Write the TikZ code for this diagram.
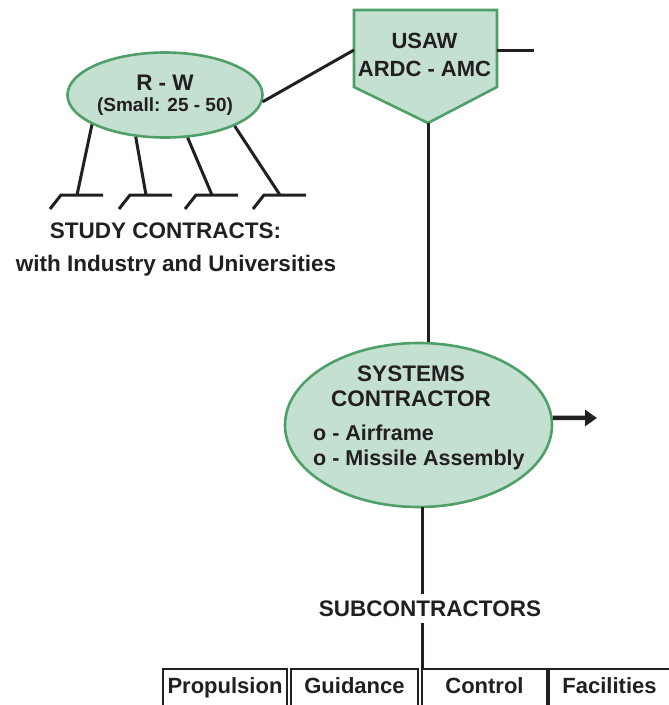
\documentclass[tikz,border=0pt]{standalone}
\usepackage{fontspec}
\setmainfont{Liberation Sans}
\usetikzlibrary{shapes.geometric, arrows.meta}
\definecolor{sagefill}{RGB}{196,224,209}
\definecolor{sageedge}{RGB}{78,160,104}
\definecolor{inkblack}{RGB}{35,31,32}
\tikzset{lbl/.style={font=\bfseries\fontsize{22.5}{25}\selectfont, text=inkblack, inner sep=0pt}}
\tikzset{bubble/.style={ellipse, draw=sageedge, fill=sagefill, line width=2.6pt, inner sep=0pt}}
\tikzset{wire/.style={draw=inkblack, line width=3pt}}
\tikzset{subbox/.style={rectangle, draw=inkblack, line width=2.4pt, minimum height=39pt, inner sep=0pt,
    text height=15pt, text depth=4.5pt, font=\bfseries\fontsize{22}{25}\selectfont, text=inkblack}}

\begin{document}
\begin{tikzpicture}[x=1pt, y=-1pt]
    \useasboundingbox (0,0) rectangle (669,705);
    \clip (0,0) rectangle (669,705);

    % headquarters
    \coordinate (usawin) at (354,50);
    \coordinate (usawout) at (497,50);
    \coordinate (usawend) at (534,50);
    \coordinate (usawtip) at (428,123);
    \filldraw[fill=sagefill, draw=sageedge, line width=2.6pt] (354,10) -- (497,10) -- (497,87) -- (usawtip) -- (354,87) -- cycle;
    \node[lbl, align=center, font=\bfseries\fontsize{22}{28}\selectfont] (usaw) at (424.5,54.5) {USAW\\ARDC - AMC};
    \draw[wire] (usawout) -- (usawend);

    % study contracts
    \node[bubble, minimum width=195pt, minimum height=85pt, align=center, font=\bfseries\fontsize{22.5}{21}\selectfont, text=inkblack] (rw) at (165,95)
        {R - W\\{\fontsize{19}{21}\selectfont (Small: 25 - 50)}};
    \draw[wire] (rw.-4) -- (usawin);
    \foreach \ang/\fx in {202/77, 235/146, 298/212, 336/280} {
        \coordinate (foot) at (\fx,195);
        \draw[wire] (rw.\ang) -- (foot);
        \draw[wire] ([xshift=26pt]foot) -- ([xshift=-16pt]foot) -- ++(-11,14);
    }
    \node[lbl, anchor=base] (studyhd) at (165.5,238) {STUDY CONTRACTS:};
    \node[lbl, anchor=base] (studysub) at (176,271) {with Industry and Universities};

    % prime contractor
    \node[bubble, minimum width=267pt, minimum height=164pt] (sys) at (418.5,425) {};
    \node[lbl, align=center] (syshead) at (411,386) {SYSTEMS\\CONTRACTOR};
    \node[lbl, align=left, anchor=north west, font=\bfseries\fontsize{21.5}{25}\selectfont] (sysitems) at (313,425) {o - Airframe\\o - Missile Assembly};
    \draw[wire] (usawtip) -- (usawtip |- sys.north);
    \coordinate (sysout) at (597,418);
    \draw[wire, line width=4.5pt, -{Triangle[length=12pt, width=16pt]}] (sys.3) -- (sysout);

    % subcontractors
    \coordinate (subtop) at (422,507);
    \node[lbl, anchor=base, inner ysep=6.5pt] (subhead) at (430,616) {SUBCONTRACTORS};
    \node[subbox, minimum width=124pt] (prop) at (225,688.5) {Propulsion};
    \node[subbox, minimum width=127pt] (guid) at (354.5,688.5) {Guidance};
    \node[subbox, minimum width=125pt] (ctrl) at (484.5,688.5) {Control};
    \node[subbox, minimum width=121pt] (fac) at (609.5,688.5) {Facilities};
    \draw[wire] (subtop) -- (subtop |- subhead.north);
    \draw[wire] (subtop |- subhead.south) -- (subtop |- ctrl.north);
\end{tikzpicture}
\end{document}
